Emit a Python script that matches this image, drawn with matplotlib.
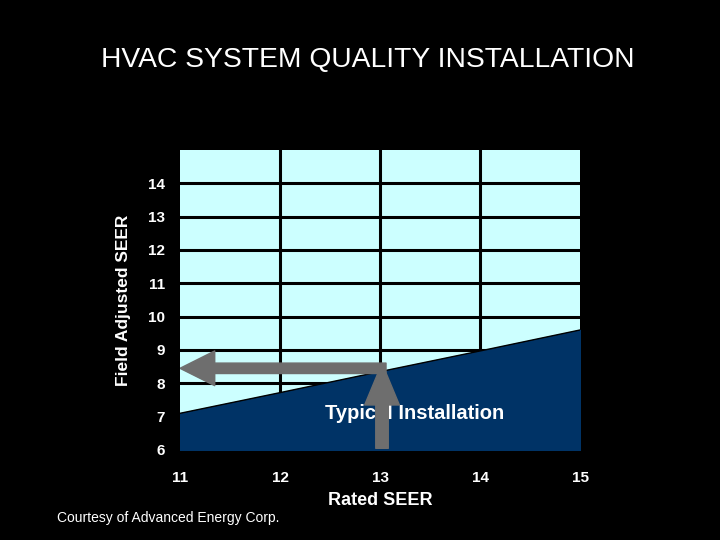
import matplotlib
matplotlib.use("Agg")
import matplotlib.pyplot as plt
from matplotlib.patches import FancyArrowPatch, ArrowStyle

plt.rcParams['font.family'] = ['Liberation Sans', 'DejaVu Sans']

# data
rated_seer = [11, 12, 13, 14, 15]
field_seer = [7.1, 7.72, 8.35, 8.97, 9.6]
y_ticks = [6, 7, 8, 9, 10, 11, 12, 13, 14]
x_ticks = [11, 12, 13, 14, 15]

fig = plt.figure(figsize=(7.2, 5.4), dpi=100)
fig.patch.set_facecolor('black')
ax = fig.add_axes([0.25, 0.1667, 0.5556, 0.5556])
ax.set_facecolor('#ccffff')

ax.set_xlim(11, 15)
ax.set_ylim(6, 15)

# grid
for yv in y_ticks[1:]:
    ax.axhline(yv, color='black', linewidth=2.2, zorder=1)
for xv in x_ticks[1:-1]:
    ax.axvline(xv, color='black', linewidth=2.2, zorder=1)

# typical installation area
ax.fill_between(rated_seer, 6, field_seer, color='#003366', zorder=2)
ax.plot(rated_seer, field_seer, color='black', linewidth=1, zorder=2)

ax.text(13.35, 7.1, 'Typical Installation', color='white', fontsize=14.5,
        fontweight='bold', ha='center', va='center', zorder=3)

grey = '#6e6e6e'
up = FancyArrowPatch((13.02, 6.05), (13.02, 8.6),
                     arrowstyle=ArrowStyle.Simple(head_length=30, head_width=25, tail_width=9),
                     mutation_scale=1, shrinkA=0, shrinkB=0, color=grey, zorder=4)
left = FancyArrowPatch((13.06, 8.45), (11.0, 8.45),
                       arrowstyle=ArrowStyle.Simple(head_length=25, head_width=25, tail_width=7.5),
                       mutation_scale=1, shrinkA=0, shrinkB=0, color=grey, zorder=4)
ax.add_patch(up)
ax.add_patch(left)

ax.set_xticks(x_ticks)
ax.set_yticks(y_ticks)
ax.tick_params(colors='white', length=0, labelsize=11)
ax.tick_params(axis='x', pad=15)
ax.tick_params(axis='y', pad=11)
for lab in ax.get_xticklabels() + ax.get_yticklabels():
    lab.set_fontweight('bold')
for s in ax.spines.values():
    s.set_visible(False)

ax.set_xlabel('Rated SEER', color='white', fontsize=13, fontweight='bold', labelpad=5)
ax.set_ylabel('Field Adjusted SEER', color='white', fontsize=12.5, fontweight='bold', labelpad=12)

fig.text(0.511, 0.888, 'HVAC SYSTEM QUALITY INSTALLATION', color='white', fontsize=20.3,
         ha='center', va='center')
fig.text(0.079, 0.04, 'Courtesy of Advanced Energy Corp.', color='white', fontsize=10,
         ha='left', va='center')

fig.savefig('out.png', dpi=100, facecolor='black')
